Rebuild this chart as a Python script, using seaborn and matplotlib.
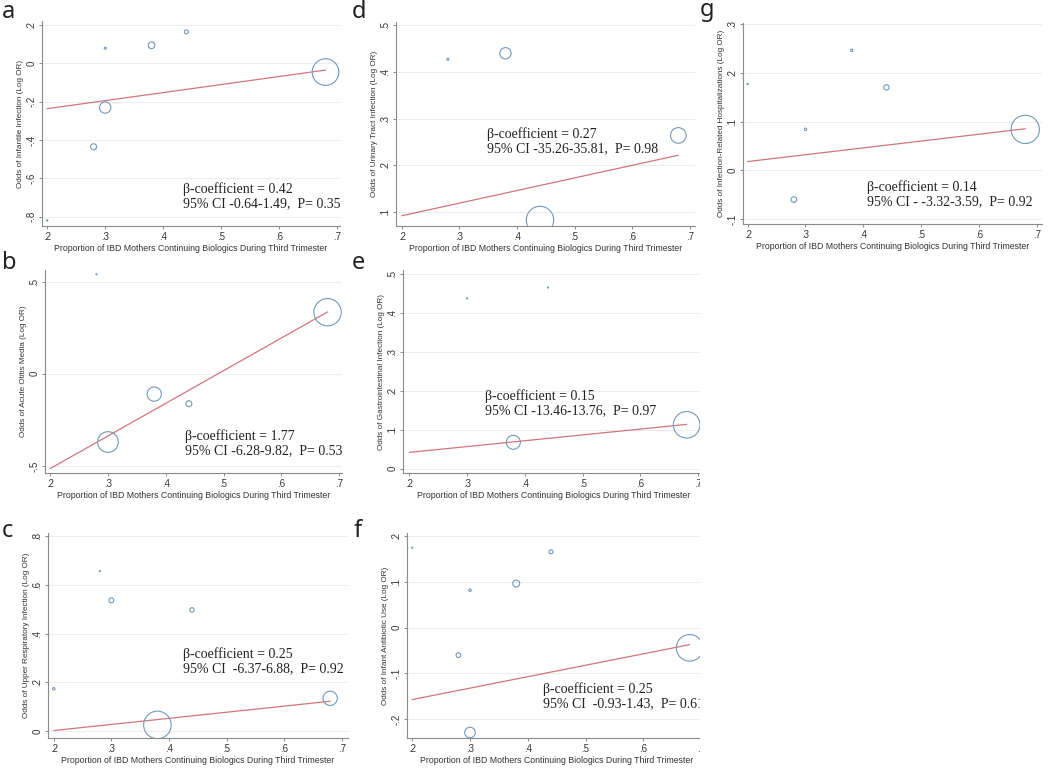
import numpy as np
import matplotlib
matplotlib.use("Agg")
import matplotlib.pyplot as plt
from matplotlib import font_manager
from matplotlib.patches import Rectangle
from matplotlib.ticker import FuncFormatter
import seaborn as sns

# shared x axis: proportion of IBD mothers continuing biologics in 3rd trimester
x_ticks = [0.2, 0.3, 0.4, 0.5, 0.6, 0.7]
x_title = "Proportion of IBD Mothers Continuing Biologics During Third Trimester"
fit_range = [0.20, 0.68]  # span of the fitted meta-regression line

# a - infantile infection
prop_a = [0.20, 0.28, 0.30, 0.30, 0.38, 0.44, 0.68]
logor_a = [-0.82, -0.435, 0.08, -0.23, 0.095, 0.165, -0.045]
wt_a = [0.4, 9, 1, 32, 11, 4, 177]
beta_a, icpt_a = 0.42, -0.320
stats_a = "95% CI -0.64-1.49,  P= 0.35"
yticks_a = [-0.8, -0.6, -0.4, -0.2, 0, 0.2]

# d - urinary tract infection
prop_d = [0.28, 0.38, 0.44, 0.68]
logor_d = [0.427, 0.44, 0.083, 0.264]
wt_d = [1, 32, 187, 61]
beta_d, icpt_d = 0.27, 0.038
stats_d = "95% CI -35.26-35.81,  P= 0.98"
yticks_d = [0.1, 0.2, 0.3, 0.4, 0.5]

# g - infection-related hospitalizations
prop_g = [0.20, 0.28, 0.30, 0.38, 0.44, 0.68]
logor_g = [0.177, -0.060, 0.084, 0.246, 0.170, 0.084]
wt_g = [0.4, 8, 1.5, 1.5, 7, 200]
beta_g, icpt_g = 0.14, -0.010
stats_g = "95% CI - -3.32-3.59,  P= 0.92"
yticks_g = [-0.1, 0, 0.1, 0.2, 0.3]

# b - acute otitis media
prop_b = [0.28, 0.30, 0.38, 0.44, 0.68]
logor_b = [0.54, -0.370, -0.110, -0.162, 0.334]
wt_b = [0.3, 107, 51, 9, 187]
beta_b, icpt_b = 1.77, -0.868
stats_b = "95% CI -6.28-9.82,  P= 0.53"
yticks_b = [-0.5, 0, 0.5]

# e - gastrointestinal infection
prop_e = [0.30, 0.38, 0.44, 0.68]
logor_e = [0.438, 0.068, 0.466, 0.113]
wt_e = [0.3, 49, 0.3, 177]
beta_e, icpt_e = 0.15, 0.012
stats_e = "95% CI -13.46-13.76,  P= 0.97"
yticks_e = [0, 0.1, 0.2, 0.3, 0.4, 0.5]

# c - upper respiratory infection
prop_c = [0.20, 0.28, 0.30, 0.38, 0.44, 0.68]
logor_c = [0.174, 0.656, 0.536, 0.026, 0.497, 0.135]
wt_c = [1.5, 0.3, 6, 190, 5, 51]
beta_c, icpt_c = 0.25, -0.047
stats_c = "95% CI  -6.37-6.88,  P= 0.92"
yticks_c = [0, 0.2, 0.4, 0.6, 0.8]

# f - infant antibiotic use
prop_f = [0.20, 0.28, 0.30, 0.30, 0.38, 0.44, 0.68]
logor_f = [0.175, -0.060, 0.082, -0.229, 0.0965, 0.166, -0.044]
wt_f = [0.3, 5.5, 1.5, 28, 12, 4, 177]
beta_f, icpt_f = 0.25, -0.207
stats_f = "95% CI  -0.93-1.43,  P= 0.61"
yticks_f = [-0.2, -0.1, 0, 0.1, 0.2]

W, H = 1050, 774
BLUE = "#7199bb"
RED = "#d0767e"
SPINE = "#8a8a8a"


def pick_font(name, fallback):
    try:
        font_manager.findfont(name, fallback_to_default=False)
        return name, True
    except ValueError:
        return fallback, False


narrow, has_narrow = pick_font("Liberation Sans Narrow", "Liberation Sans")
small_fs = 7 if has_narrow else 5.9

sns.set_theme(style="white")
plt.rcParams["font.family"] = ["Liberation Sans", "DejaVu Sans"]


def stata_fmt(v, pos=None):
    if abs(v) < 1e-9:
        return "0"
    s = f"{v:.1f}"
    if s.startswith("-0."):
        return "-" + s[2:]
    if s.startswith("0."):
        return s[1:]
    return s


def box(l, r, t, b):
    return [l / W, 1 - b / H, (r - l) / W, (b - t) / H]


panels = [
    # letter, x, y, wt, beta, icpt, stats, yticks, ytitle, box px, xlim, ylim, letter pos, text pos
    ("a", prop_a, logor_a, wt_a, beta_a, icpt_a, stats_a, yticks_a,
     "Odds of Infantile Infection (Log OR)",
     (42, 340, 21, 226), (0.191, 0.705), (-0.849, 0.222), (2, 12), (183, 190)),
    ("d", prop_d, logor_d, wt_d, beta_d, icpt_d, stats_d, yticks_d,
     "Odds of Urinary Tract Infection (Log OR)",
     (396, 695, 22, 226), (0.190, 0.709), (0.070, 0.507), (352, 12), (487, 135)),
    ("g", prop_g, logor_g, wt_g, beta_g, icpt_g, stats_g, yticks_g,
     "Odds of Infection-Related Hospitalizations (Log OR)",
     (743, 1042, 23, 224), (0.192, 0.709), (-0.110, 0.302), (700, 10), (867, 188)),
    ("b", prop_b, logor_b, wt_b, beta_b, icpt_b, stats_b, yticks_b,
     "Odds of Acute Otitis Media (Log OR)",
     (45, 342, 270, 473), (0.191, 0.705), (-0.538, 0.563), (2, 263), (185, 437)),
    ("e", prop_e, logor_e, wt_e, beta_e, icpt_e, stats_e, yticks_e,
     "Odds of Gastrointestinal Infection (Log OR)",
     (403, 704, 270, 473), (0.189, 0.710), (-0.011, 0.511), (352, 263), (485, 397)),
    ("c", prop_c, logor_c, wt_c, beta_c, icpt_c, stats_c, yticks_c,
     "Odds of Upper Respiratory Infection (Log OR)",
     (48, 348, 533, 738), (0.190, 0.711), (-0.0275, 0.812), (2, 531), (183, 655)),
    ("f", prop_f, logor_f, wt_f, beta_f, icpt_f, stats_f, yticks_f,
     "Odds of Infant Antibiotic Use (Log OR)",
     (407, 707, 533, 738), (0.191, 0.710), (-0.241, 0.207), (354, 531), (543, 690)),
]

fig = plt.figure(figsize=(W / 100, H / 100), dpi=100)

for (letter, px, py, wt, beta, icpt, stats, yticks, ytitle,
     bx, xlim, ylim, lpos, tpos) in panels:
    ax = fig.add_axes(box(*bx))
    ax.set_facecolor("white")

    # fitted meta-regression line
    xs = np.array(fit_range)
    sns.lineplot(x=xs, y=icpt + beta * xs, color=RED, linewidth=0.9, ax=ax)
    # studies, marker area ~ weight
    sns.scatterplot(x=px, y=py, s=np.array(wt) * 2.07, facecolor="none",
                    edgecolor=BLUE, linewidth=0.8, ax=ax, legend=False, zorder=3)

    ax.set_xlim(*xlim)
    ax.set_ylim(*ylim)
    ax.set_xticks(x_ticks)
    ax.set_yticks(yticks)
    ax.xaxis.set_major_formatter(FuncFormatter(stata_fmt))
    ax.yaxis.set_major_formatter(FuncFormatter(stata_fmt))
    ax.grid(axis="y", color="#ededed", linewidth=0.8)
    ax.grid(axis="x", visible=False)
    ax.set_axisbelow(True)
    for side in ["top", "right"]:
        ax.spines[side].set_visible(False)
    for side in ["left", "bottom"]:
        ax.spines[side].set_color(SPINE)
        ax.spines[side].set_linewidth(0.8)
    ax.tick_params(direction="out", length=2.5, width=0.7, color=SPINE,
                   labelsize=7, labelcolor="#333333", pad=1.5)
    ax.tick_params(axis="x", bottom=True)
    ax.tick_params(axis="y", left=True)
    for t in ax.get_yticklabels():
        t.set_rotation(90)
        t.set_va("center")
    ax.set_xlabel(x_title, fontsize=small_fs + 0.4, family=narrow,
                  color="#333333", labelpad=1.5)
    ax.set_ylabel(ytitle, fontsize=small_fs, family=narrow,
                  color="#333333", labelpad=2)

    fig.text(lpos[0] / W, 1 - lpos[1] / H, letter, fontsize=17, ha="left",
             va="center", family="Noto Sans", color="#222222")
    fig.text(tpos[0] / W, 1 - tpos[1] / H,
             f"β-coefficient = {beta:.2f}\n{stats}",
             fontsize=10, family="Liberation Serif", ha="left", va="top",
             linespacing=1.15, color="#222222",
             transform=matplotlib.transforms.offset_copy(
                 fig.transFigure, fig=fig, y=8, units="dots"))

# the middle-column panels in rows b/c are cropped at the right edge
fig.add_artist(Rectangle((700 / W, 0), 1 - 700 / W, 1 - 252 / H,
                         transform=fig.transFigure, facecolor="white",
                         edgecolor="none", zorder=10))

fig.savefig("out.png", dpi=100, facecolor="white")
